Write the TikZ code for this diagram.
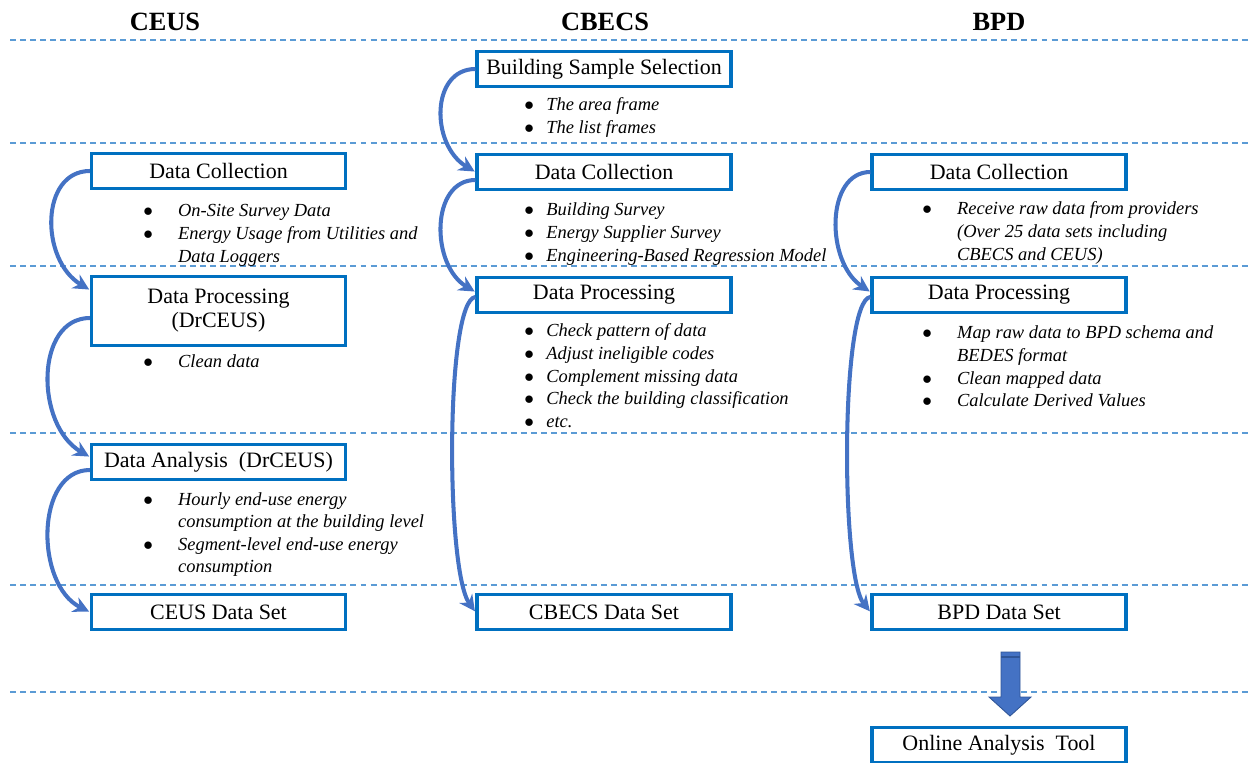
\documentclass[tikz,border=0pt]{standalone}
\usepackage{fontspec}
\setmainfont{Liberation Serif}
\usetikzlibrary{arrows.meta,calc}

\definecolor{boxblue}{HTML}{0070C0}
\definecolor{arrblue}{HTML}{4472C4}
\definecolor{arrdark}{HTML}{2F5597}
\definecolor{lineblue}{HTML}{5B9BD5}

% bullet list: width of bullet column, rows
\newcommand{\blist}[2]{{\fontsize{10.5}{12.9}\selectfont\itshape
  \begin{tabular}[t]{@{}p{#1}@{}l@{}}#2\end{tabular}}}
\newcommand{\bi}{$\bullet$ &}

\begin{document}
\begin{tikzpicture}
  [x=0.02cm,y=-0.02cm,every node/.style={inner sep=0pt},
   stage/.style={draw=boxblue,line width=1.8pt,fill=white,minimum width=5.08cm,
     minimum height=0.70cm,align=center,font=\fontsize{12.5}{13.6}\selectfont},
   colhead/.style={font=\fontsize{15}{18}\selectfont\bfseries},
   bullets/.style={anchor=base west,align=left},
   divider/.style={lineblue,line width=0.6pt,dash pattern=on 3.4pt off 2.3pt},
   flow/.style={arrblue,line width=2.3pt,-{Stealth[length=9pt,width=9pt]},shorten >=0.5pt}]
  \useasboundingbox (0,0) rectangle (1248,763);

  % column heads
  \node[colhead] (hceus) at (165,22) {CEUS};
  \node[colhead] (hcbecs) at (605,22) {CBECS};
  \node[colhead] (hbpd) at (999,22) {BPD};

  % dashed rows
  \foreach \y in {40,143,266,433,585,692}
    \draw[divider] (10,\y) -- (1248,\y);

  % CEUS
  \node[stage] (cdc) at (218.5,171) {Data Collection};
  \node[stage,minimum height=1.38cm] (cdp) at (218.5,311) {Data Processing\\(DrCEUS)};
  \node[stage] (cda) at (218.5,462) {Data Analysis~ (DrCEUS)};
  \node[stage] (cds) at (218.5,612) {CEUS Data Set};

  \node[bullets] (cdcl) at (143,217) {\blist{19.8pt}{\bi On-Site Survey Data\\
    \bi Energy Usage from Utilities and\\ & Data Loggers}};
  \node[bullets] (cdpl) at (143,368) {\blist{19.8pt}{\bi Clean data}};
  \node[bullets] (cdal) at (143,505) {\blist{19.8pt}{\bi Hourly end-use energy\\
    & consumption at the building level\\ \bi Segment-level end-use energy\\ & consumption}};

  % CBECS
  \node[stage] (bss) at (604,69) {Building Sample Selection};
  \node[stage] (bdc) at (604,172) {Data Collection};
  \node[stage] (bdp) at (604,295) {Data Processing};
  \node[stage] (bds) at (604,612) {CBECS Data Set};

  \node[bullets] (bssl) at (524,111) {\blist{12.5pt}{\bi The area frame\\ \bi The list frames}};
  \node[bullets] (bdcl) at (524,216) {\blist{12.5pt}{\bi Building Survey\\
    \bi Energy Supplier Survey\\ \bi Engineering-Based Regression Model}};
  \node[bullets] (bdpl) at (524,337) {\blist{12.5pt}{\bi Check pattern of data\\
    \bi Adjust ineligible codes\\ \bi Complement missing data\\
    \bi Check the building classification\\ \bi etc.}};

  % BPD
  \node[stage] (pdc) at (999,172) {Data Collection};
  \node[stage] (pdp) at (999,295) {Data Processing};
  \node[stage] (pds) at (999,612) {BPD Data Set};
  \node[stage] (oat) at (999,745) {Online Analysis~ Tool};

  \node[bullets] (pdcl) at (922,215) {\blist{19.8pt}{\bi Receive raw data from providers\\
    & (Over 25 data sets including\\ & CBECS and CEUS)}};
  \node[bullets] (pdpl) at (922,339) {\blist{19.8pt}{\bi Map raw data to BPD schema and\\
    & BEDES format\\ \bi Clean mapped data\\ \bi Calculate Derived Values}};

  % curved flows
  \draw[flow] (cdc.west) .. controls +(-50,0) and +(-50,-30) .. ($(cdp.west)+(0,-21)$);
  \draw[flow] ($(cdp.west)+(0,7)$) .. controls +(-55,0) and +(-55,-32) .. ($(cda.west)+(0,-5)$);
  \draw[flow] ($(cda.west)+(0,8)$) .. controls +(-55,0) and +(-55,-27) .. (cds.west);

  \draw[flow] (bss.west) .. controls +(-45,0) and +(-45,-27) .. (bdc.west);
  \draw[flow] ($(bdc.west)+(0,8)$) .. controls +(-45,0) and +(-45,-27) .. ($(bdp.west)+(0,-3)$);
  \draw[flow] ($(bdp.west)+(0,2)$) .. controls +(-30,3) and +(-30,-42) .. (bds.west);

  \draw[flow] (pdc.west) .. controls +(-45,0) and +(-45,-30) .. ($(pdp.west)+(0,-3)$);
  \draw[flow] ($(pdp.west)+(0,2)$) .. controls +(-30,3) and +(-30,-37) .. (pds.west);

  % block arrow to the online tool
  \filldraw[fill=arrblue,draw=arrdark,line width=0.5pt]
    (1001,652) -- (1020,652) -- (1020,697) -- (1031,697) -- (1010,716)
    -- (989,697) -- (1001,697) -- cycle;
  \draw[arrdark,line width=0.8pt] (1001,657) -- (1020,657);
\end{tikzpicture}
\end{document}
